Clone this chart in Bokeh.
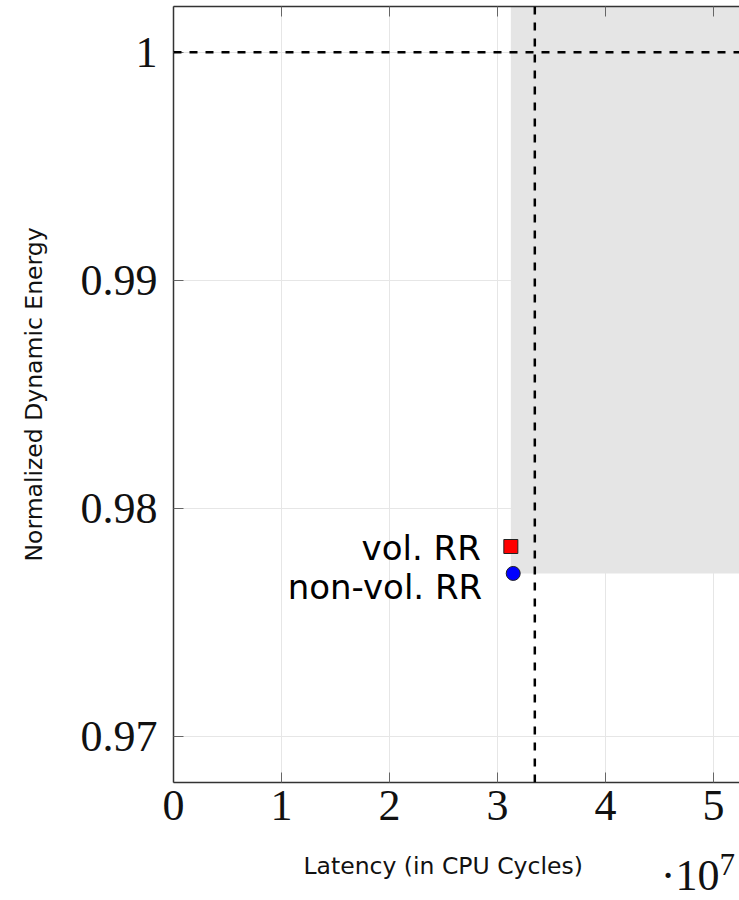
from bokeh.plotting import figure
from bokeh.models import (Range1d, LinearAxis, Label, Span, BoxAnnotation,
                          FixedTicker, CustomJSTickFormatter, ColumnDataSource)
from bokeh.core.properties import value
from bokeh.embed import file_html
from bokeh.resources import INLINE

# Design points: latency (CPU cycles) vs normalized dynamic energy
names = ["vol. RR", "non-vol. RR"]
latency = [3.123e7, 3.145e7]
energy = [0.97834, 0.97716]

# Baseline references
baseline_latency = 3.345e7
baseline_energy = 1.0

x_ticks = [0, 1e7, 2e7, 3e7, 4e7, 5e7]
y_ticks = [0.97, 0.98, 0.99, 1.0]
x_title = "Latency (in CPU Cycles)"
y_title = "Normalized Dynamic Energy"
x_mult_base = "·10"
x_mult_exp = "7"

SERIF = "Liberation Serif"
SANS = "DejaVu Sans"

X0, X1 = 0, 5.24e7
Y0, Y1 = 0.968, 1.002

p = figure(width=739, height=900, output_backend="svg", toolbar_location=None,
           x_range=Range1d(X0, X1), y_range=Range1d(Y0, Y1),
           min_border_left=173, min_border_right=0, min_border_top=6,
           min_border_bottom=118)
p.outline_line_color = None
p.background_fill_color = "white"

# Axes styling (ticks drawn inward)
xfmt = CustomJSTickFormatter(code="return (tick / 1e7).toFixed(0);")
yfmt = CustomJSTickFormatter(code="return tick >= 0.9999 ? '1' : tick.toFixed(2);")
p.xaxis.ticker = FixedTicker(ticks=x_ticks)
p.yaxis.ticker = FixedTicker(ticks=y_ticks)
p.xaxis.formatter = xfmt
p.yaxis.formatter = yfmt
for ax in (p.xaxis[0], p.yaxis[0]):
    ax.major_tick_in = 10
    ax.major_tick_out = 0
    ax.minor_tick_line_color = None
    ax.axis_line_color = "#333333"
    ax.axis_line_width = 1.5
    ax.major_tick_line_color = "#666666"
    ax.major_label_text_font = SERIF
    ax.major_label_text_font_size = "44px"
    ax.major_label_text_color = "#111111"
    ax.axis_label_text_font = SANS
    ax.axis_label_text_font_size = "23.5px"
    ax.axis_label_text_font_style = "normal"
    ax.axis_label_text_color = "#111111"

p.yaxis.axis_label = y_title
p.xaxis.major_label_standoff = 8
p.yaxis.major_label_standoff = 16
p.yaxis.axis_label_standoff = 30

# Top border with mirrored ticks (no labels)
top = LinearAxis(ticker=FixedTicker(ticks=x_ticks),
                 formatter=CustomJSTickFormatter(code="return '';"),
                 major_tick_in=10, major_tick_out=0, minor_tick_line_color=None,
                 axis_line_color="#333333", axis_line_width=1.5,
                 major_tick_line_color="#666666", major_label_standoff=0)
p.add_layout(top, "above")

p.xgrid.grid_line_color = "#e6e6e6"
p.ygrid.grid_line_color = "#e6e6e6"
p.xgrid.ticker = FixedTicker(ticks=x_ticks)
p.ygrid.ticker = FixedTicker(ticks=y_ticks)

# Region dominated by the design points
p.add_layout(BoxAnnotation(left=latency[0], bottom=energy[1],
                           fill_color="#e5e5e5", fill_alpha=1.0,
                           line_color=None, level="underlay"))

# Baseline dashed lines
p.add_layout(Span(location=baseline_energy, dimension="width",
                  line_color="black", line_width=2.5, line_dash="8 8"))
p.add_layout(Span(location=baseline_latency, dimension="height",
                  line_color="black", line_width=2.5, line_dash="8 8"))

src_v = ColumnDataSource(dict(x=latency[:1], y=energy[:1], t=names[:1]))
src_n = ColumnDataSource(dict(x=latency[1:], y=energy[1:], t=names[1:]))

p.scatter("x", "y", source=src_v, marker="square", size=14,
          fill_color="red", line_color="#222222", line_width=1)
p.scatter("x", "y", source=src_n, marker="circle", size=14,
          fill_color="blue", line_color="#222222", line_width=1)

p.text("x", "y", text="t", source=src_v, x_offset=-30, y_offset=1,
       text_align="right", text_baseline="alphabetic",
       text_font=value(SANS), text_font_size="34px", text_color="black")
p.text("x", "y", text="t", source=src_n, x_offset=-31, y_offset=14,
       text_align="right", text_baseline="alphabetic",
       text_font=value(SANS), text_font_size="34px", text_color="black")

# x-axis title and multiplier, drawn in the side panels (outside the frame)
p.add_layout(Label(x=X0, y=Y0, x_offset=130, y_offset=-83,
                   text=x_title, text_font=SANS, text_font_size="23.5px",
                   text_align="left", text_baseline="alphabetic",
                   text_color="#111111"), "below")
p.add_layout(Label(x=X1, y=Y0, x_offset=-20, y_offset=-93,
                   text=x_mult_base, text_font=SERIF, text_font_size="44px",
                   text_align="right", text_baseline="alphabetic",
                   text_color="#111111"), "below")
p.add_layout(Label(x=X1, y=Y0, x_offset=-20, y_offset=-82,
                   text=x_mult_exp, text_font=SERIF, text_font_size="31px",
                   text_align="left", text_baseline="alphabetic",
                   text_color="#111111"), "left")

open("out.html", "w").write(file_html(p, INLINE))
